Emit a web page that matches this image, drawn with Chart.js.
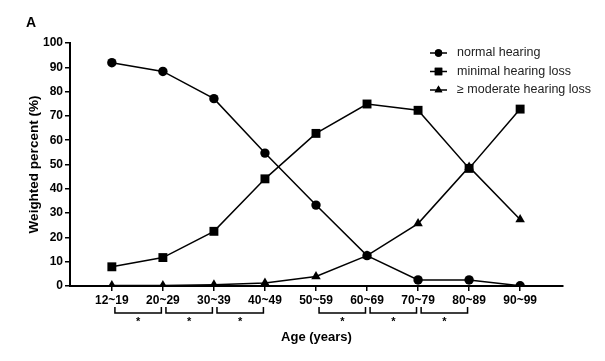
<!DOCTYPE html>
<html>
<head>
<meta charset="utf-8">
<script src="https://cdn.jsdelivr.net/npm/chart.js@4/dist/chart.umd.min.js"></script>
<style>
  html, body { margin: 0; padding: 0; background: #fff; }
  #wrap { width: 605px; height: 361px; }
</style>
</head>
<body>
<div id="wrap"><canvas id="hearingChart"></canvas></div>
<script>
const ageGroups = ['12~19', '20~29', '30~39', '40~49', '50~59', '60~69', '70~79', '80~89', '90~99'];
const normalHearing = [91.9, 88.3, 77.1, 54.7, 33.3, 12.5, 2.5, 2.5, 0.1];
const minimalLoss = [7.9, 11.7, 22.5, 44.1, 62.8, 74.9, 72.3, 48.4, 72.8];
const moderateLoss = [0.2, 0.2, 0.5, 1.2, 3.9, 12.5, 25.7, 49.0, 27.4];
const yTicks = [0, 10, 20, 30, 40, 50, 60, 70, 80, 90, 100];
// pairs of age groups compared, each marked with *
const signifPairs = [[0, 1], [1, 2], [2, 3], [4, 5], [5, 6], [6, 7]];

const font = 'Liberation Sans, Arial, sans-serif';

function toPoints(values) {
  return values.map((v, i) => ({ x: i, y: v }));
}

const extras = {
  id: 'extras',
  afterDraw(chart) {
    const ctx = chart.ctx;
    const xs = chart.scales.x;
    const ys = chart.scales.y;
    ctx.save();
    ctx.fillStyle = '#000';
    ctx.strokeStyle = '#000';

    // panel letter
    ctx.font = 'bold 14px ' + font;
    ctx.textAlign = 'left';
    ctx.textBaseline = 'middle';
    ctx.fillText('A', 26, 23);

    // legend
    ctx.font = '12.5px ' + font;
    ctx.fillStyle = '#222';
    chart.data.datasets.forEach((ds, i) => {
      const y = 53 + i * 18.5;
      ctx.fillStyle = '#000';
      ctx.lineWidth = 1.5;
      ctx.beginPath();
      ctx.moveTo(430, y);
      ctx.lineTo(447, y);
      ctx.stroke();
      Chart.helpers.drawPoint(ctx, { pointStyle: ds.pointStyle, radius: ds.pointRadius - 1, rotation: 0, borderWidth: 0 }, 438.5, y);
      ctx.fill();
      ctx.fillStyle = '#222';
      ctx.fillText(ds.label, 457, y);
    });

    // significance brackets
    const base = ys.bottom;
    ctx.fillStyle = '#000';
    ctx.lineWidth = 1.5;
    ctx.font = 'bold 11px ' + font;
    ctx.textAlign = 'center';
    signifPairs.forEach(([a, b]) => {
      const x1 = xs.getPixelForValue(a + 0.06);
      const x2 = xs.getPixelForValue(b - 0.03);
      const top = base + 21;
      const bot = base + 27;
      ctx.beginPath();
      ctx.moveTo(x1, top);
      ctx.lineTo(x1, bot);
      ctx.lineTo(x2, bot);
      ctx.lineTo(x2, top);
      ctx.stroke();
      ctx.fillText('*', (x1 + x2) / 2, bot + 9);
    });
    ctx.restore();
  }
};

const baseDs = {
  borderColor: '#000',
  backgroundColor: '#000',
  pointBackgroundColor: '#000',
  pointBorderColor: '#000',
  borderWidth: 1.5,
  pointBorderWidth: 0,
  showLine: true,
  tension: 0
};

new Chart(document.getElementById('hearingChart'), {
  type: 'scatter',
  data: {
    datasets: [
      { ...baseDs, label: 'normal hearing', data: toPoints(normalHearing), pointStyle: 'circle', pointRadius: 4.7 },
      { ...baseDs, label: 'minimal hearing loss', data: toPoints(minimalLoss), pointStyle: 'rect', pointRadius: 6.3 },
      { ...baseDs, label: '\u2265 moderate hearing loss', data: toPoints(moderateLoss), pointStyle: 'triangle', pointRadius: 5.5 }
    ]
  },
  options: {
    responsive: true,
    maintainAspectRatio: false,
    animation: false,
    layout: { padding: { top: 43, right: 42, left: 0, bottom: 0 } },
    plugins: {
      legend: { display: false },
      tooltip: { enabled: false }
    },
    scales: {
      x: {
        type: 'linear',
        min: -0.82,
        max: 8.84,
        afterBuildTicks(scale) {
          scale.ticks = ageGroups.map((_, i) => ({ value: i }));
        },
        afterFit(scale) { scale.height = 75; },
        grid: { drawOnChartArea: false, drawTicks: true, tickLength: 5, color: '#000', lineWidth: 1.5 },
        border: { display: true, color: '#000', width: 2 },
        ticks: {
          color: '#000',
          padding: 2,
          font: { family: font, size: 12, weight: 'bold' },
          callback: (v) => ageGroups[v]
        },
        title: {
          display: true,
          text: 'Age (years)',
          color: '#000',
          font: { family: font, size: 13, weight: 'bold' },
          padding: { top: 0, bottom: 16 }
        }
      },
      y: {
        min: 0,
        max: 100,
        afterBuildTicks(scale) {
          scale.ticks = yTicks.map((v) => ({ value: v }));
        },
        afterFit(scale) { scale.width = 70; },
        grid: { drawOnChartArea: false, drawTicks: true, tickLength: 5, color: '#000', lineWidth: 1.5 },
        border: { display: true, color: '#000', width: 2 },
        ticks: {
          color: '#000',
          padding: 2,
          font: { family: font, size: 12, weight: 'bold' }
        },
        title: {
          display: true,
          text: 'Weighted percent (%)',
          color: '#000',
          font: { family: font, size: 13.5, weight: 'bold' },
          padding: { top: 26, bottom: 0 }
        }
      }
    }
  },
  plugins: [extras]
});
</script>
</body>
</html>
